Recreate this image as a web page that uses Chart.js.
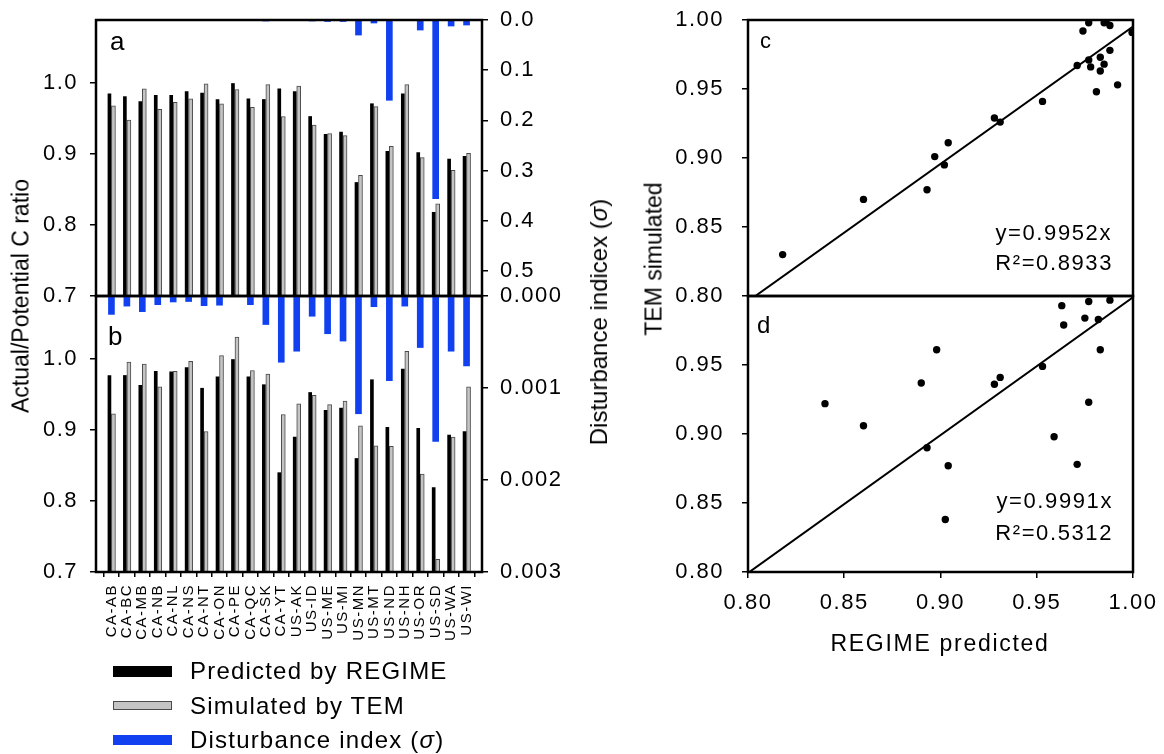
<!DOCTYPE html>
<html lang="en">
<head>
    <meta charset="UTF-8">
    <title>Actual/Potential C ratio: REGIME vs TEM</title>
    <script src="https://cdn.jsdelivr.net/npm/chart.js"></script>
    <style>
        body {
            margin: 0;
            background: #fff;
            font-family: Arial, "Liberation Sans", sans-serif;
        }
        #fig {
            position: relative;
            width: 1164px;
            height: 754px;
            overflow: hidden;
        }
        #fig canvas {
            position: absolute;
        }
        .ttl {
            position: absolute;
            color: #000;
            white-space: nowrap;
            line-height: 1;
            transform: translate(-50%, -50%);
        }
        .rot {
            transform: translate(-50%, -50%) rotate(-90deg);
        }
        #legend {
            position: absolute;
            left: 113px;
            top: 654px;
        }
        .item {
            display: flex;
            align-items: center;
            height: 34.5px;
            font-size: 24px;
            letter-spacing: 1.2px;
            white-space: nowrap;
        }
        .swatch {
            display: inline-block;
            width: 59px;
            margin-right: 18px;
            box-sizing: border-box;
        }
    </style>
</head>
<body>
<div id="fig">
    <canvas id="cA" width="620" height="360" style="left:0;top:-20px"></canvas>
    <canvas id="cB" width="620" height="410" style="left:0;top:256px"></canvas>
    <canvas id="cC" width="564" height="360" style="left:620px;top:-20px"></canvas>
    <canvas id="cD" width="564" height="410" style="left:620px;top:256px"></canvas>

    <div class="ttl rot" style="left:21px;top:296px;font-size:23px">Actual/Potential C ratio</div>
    <div class="ttl rot" style="left:599px;top:322px;font-size:24px">Disturbance indicex (<i>σ</i>)</div>
    <div class="ttl rot" style="left:654px;top:259px;font-size:23px">TEM simulated</div>
    <div class="ttl" style="left:940px;top:643px;font-size:23px;letter-spacing:1.7px">REGIME predicted</div>

    <div id="legend"></div>
</div>

<script>
    // states / provinces
    const states = ['CA-AB', 'CA-BC', 'CA-MB', 'CA-NB', 'CA-NL', 'CA-NS', 'CA-NT', 'CA-ON',
        'CA-PE', 'CA-QC', 'CA-SK', 'CA-YT', 'US-AK', 'US-ID', 'US-ME', 'US-MI',
        'US-MN', 'US-MT', 'US-ND', 'US-NH', 'US-OR', 'US-SD', 'US-WA', 'US-WI'];

    // panel a (and scatter c)
    const predA = [0.985, 0.981, 0.974, 0.983, 0.983, 0.988, 0.986, 0.977, 0.9995, 0.978, 0.977, 0.992,
        0.988, 0.953, 0.928, 0.931, 0.860, 0.971, 0.904, 0.985, 0.902, 0.818, 0.893, 0.897];
    const temA = [0.968, 0.948, 0.992, 0.963, 0.973, 0.978, 0.999, 0.971, 0.991, 0.966, 0.998, 0.953,
        0.996, 0.941, 0.929, 0.926, 0.870, 0.967, 0.911, 0.998, 0.895, 0.830, 0.877, 0.901];
    const sigmaA = [0, 0, 0, 0, 0, 0, 0, 0, 0, 0, 0.002, 0,
        0, 0.002, 0.003, 0.003, 0.030, 0.006, 0.160, 0, 0.020, 0.356, 0.012, 0.010];

    // panel b (and scatter d)
    const predB = [0.977, 0.977, 0.963, 0.983, 0.982, 0.988, 0.959, 0.975, 0.9995, 0.975, 0.964, 0.840,
        0.890, 0.953, 0.928, 0.931, 0.860, 0.971, 0.904, 0.986, 0.9025, 0.819, 0.893, 0.898];
    const temB = [0.923, 0.996, 0.993, 0.961, 0.983, 0.997, 0.898, 1.005, 1.031, 0.984, 0.979, 0.922,
        0.937, 0.949, 0.936, 0.941, 0.906, 0.878, 0.877, 1.011, 0.838, 0.718, 0.890, 0.961];
    const sigmaB = [0.00020, 0.00011, 0.00017, 0.000094, 0.000065, 0.00006, 0.000105, 0.0001, 0, 0.000094, 0.00031, 0.00072,
        0.00060, 0.00022, 0.00041, 0.00049, 0.00128, 0.000116, 0.00092, 0.00011, 0.00056, 0.00158, 0.00060, 0.00076];

    // ticks
    const ratioTicks = [0.7, 0.8, 0.9, 1.0];
    const sigmaTicksA = [0, 0.1, 0.2, 0.3, 0.4, 0.5];
    const sigmaTicksB = [0, 0.001, 0.002, 0.003];
    const scatterTicks = [0.80, 0.85, 0.90, 0.95, 1.00];
    const scatterTicksD = [0.80, 0.85, 0.90, 0.95];

    // fitted lines
    const slopeC = 0.9952, r2C = 0.8933;
    const slopeD = 0.9991, r2D = 0.5312;

    Chart.defaults.font.family = 'Arial, "Liberation Sans", sans-serif';
    Chart.defaults.color = '#000';

    const BLACK = '#000000';
    const GRAY = '#c4c4c4';
    const BLUE = '#1040f0';

    // the reference lettering is a little wider than Arial
    const wideText = {
        id: 'wideText',
        beforeDraw(chart) { chart.ctx.letterSpacing = '1.5px'; },
        afterDraw(chart) { chart.ctx.letterSpacing = '0px'; }
    };

    // box around each panel
    const frame = {
        id: 'frame',
        afterDatasetsDraw(chart) {
            const {ctx, chartArea: a} = chart;
            ctx.save();
            ctx.strokeStyle = '#000';
            ctx.lineWidth = 2.5;
            ctx.strokeRect(a.left, a.top, a.width, a.height);
            ctx.restore();
        }
    };

    // panel letters and equations
    const panelText = {
        id: 'panelText',
        afterDraw(chart, args, opts) {
            const {ctx, chartArea: a} = chart;
            (opts.items || []).forEach(it => {
                ctx.save();
                ctx.font = (it.size || 23) + 'px Arial, "Liberation Sans", sans-serif';
                ctx.letterSpacing = (it.spacing || 0) + 'px';
                ctx.fillStyle = '#000';
                ctx.textAlign = it.align || 'left';
                ctx.textBaseline = 'alphabetic';
                const x = it.align === 'right' ? a.right - it.dx : a.left + it.dx;
                ctx.fillText(it.text, x, a.top + it.dy);
                ctx.restore();
            });
        }
    };

    const xy = arr => arr.map((v, i) => ({x: i, y: v}));
    const setTicks = vals => s => { s.ticks = vals.map(v => ({value: v})); };

    function barChart(id, pred, tem, sigma, sigmaMax, sigmaTicks, sigmaDigits, showX, xHeight, letter) {
        return new Chart(document.getElementById(id), {
            type: 'bar',
            data: {
                datasets: [{
                    label: 'Predicted by REGIME',
                    data: xy(pred),
                    yAxisID: 'y',
                    backgroundColor: BLACK,
                    barThickness: 4,
                    maxBarThickness: 3,
                    base: 0.7
                }, {
                    label: 'Simulated by TEM',
                    data: xy(tem),
                    yAxisID: 'y',
                    backgroundColor: GRAY,
                    borderColor: '#4a4a4a',
                    borderWidth: 1,
                    barThickness: 4,
                    base: 0.7
                }, {
                    label: 'Disturbance index (σ)',
                    data: xy(sigma),
                    yAxisID: 'y2',
                    backgroundColor: BLUE,
                    barThickness: 6,
                    grouped: false
                }]
            },
            options: {
                responsive: false,
                animation: false,
                layout: {padding: {top: 40, left: 0, right: 0, bottom: 0}},
                plugins: {
                    legend: {display: false},
                    tooltip: {enabled: false},
                    panelText: {items: [letter]}
                },
                scales: {
                    x: {
                        type: 'linear',
                        min: -1,
                        max: states.length,
                        offset: false,
                        bounds: 'data',
                        afterBuildTicks: setTicks(states.map((s, i) => i)),
                        grid: {drawOnChartArea: false, drawTicks: showX, tickLength: 5, color: '#000', lineWidth: 1.5},
                        border: {display: false},
                        ticks: {
                            display: showX,
                            autoSkip: false,
                            minRotation: 90,
                            maxRotation: 90,
                            padding: 7,
                            font: {size: 15},
                            callback: v => states[v]
                        },
                        afterFit: s => { s.height = xHeight; }
                    },
                    y: {
                        position: 'left',
                        min: 0.7,
                        max: 1.089,
                        bounds: 'data',
                        afterBuildTicks: setTicks(ratioTicks),
                        grid: {drawOnChartArea: false, tickLength: 6, color: '#000', lineWidth: 1.5},
                        border: {display: false},
                        ticks: {padding: 12, font: {size: 22}, callback: v => v.toFixed(1)},
                        afterFit: s => { s.width = 96; }
                    },
                    y2: {
                        position: 'right',
                        reverse: true,
                        min: 0,
                        max: sigmaMax,
                        bounds: 'data',
                        afterBuildTicks: setTicks(sigmaTicks),
                        grid: {drawOnChartArea: false, tickLength: 6, color: '#000', lineWidth: 1.5},
                        border: {display: false},
                        ticks: {padding: 12, font: {size: 22}, callback: v => v.toFixed(sigmaDigits)},
                        afterFit: s => { s.width = 138; }
                    }
                }
            },
            plugins: [wideText, frame, panelText]
        });
    }

    function scatterChart(id, pred, tem, slope, yTicks, showX, xHeight, texts) {
        const x0 = scatterTicks[0], x1 = scatterTicks[scatterTicks.length - 1];
        return new Chart(document.getElementById(id), {
            type: 'scatter',
            data: {
                datasets: [{
                    label: 'states',
                    data: pred.map((v, i) => ({x: v, y: tem[i]})),
                    backgroundColor: '#000',
                    borderWidth: 0,
                    pointRadius: 3.7
                }, {
                    label: 'y=' + slope + 'x',
                    data: [{x: x0, y: slope * x0}, {x: x1, y: slope * x1}],
                    showLine: true,
                    borderColor: '#000',
                    borderWidth: 2,
                    pointRadius: 0
                }]
            },
            options: {
                responsive: false,
                animation: false,
                layout: {padding: {top: 40, left: 0, right: 51, bottom: 0}},
                plugins: {
                    legend: {display: false},
                    tooltip: {enabled: false},
                    panelText: {items: texts}
                },
                scales: {
                    x: {
                        type: 'linear',
                        min: 0.8,
                        max: 1.0,
                        bounds: 'data',
                        afterBuildTicks: setTicks(scatterTicks),
                        grid: {drawOnChartArea: false, drawTicks: showX, tickLength: 6, color: '#000', lineWidth: 1.5},
                        border: {display: false},
                        ticks: {display: showX, padding: 12, maxRotation: 0, font: {size: 22}, callback: v => v.toFixed(2)},
                        afterFit: s => { s.height = xHeight; }
                    },
                    y: {
                        min: 0.8,
                        max: 1.0,
                        bounds: 'data',
                        afterBuildTicks: setTicks(yTicks),
                        grid: {drawOnChartArea: false, tickLength: 6, color: '#000', lineWidth: 1.5},
                        border: {display: false},
                        ticks: {padding: 18, font: {size: 22}, callback: v => v.toFixed(2)},
                        afterFit: s => { s.width = 128; }
                    }
                }
            },
            plugins: [wideText, frame, panelText]
        });
    }

    // a: upper bar panel, b: lower bar panel
    const chartA = barChart('cA', predA, temA, sigmaA, 0.55, sigmaTicksA, 1, false, 44,
        {text: 'a', dx: 14, dy: 30, size: 26, spacing: 1});
    const chartB = barChart('cB', predB, temB, sigmaB, 0.003, sigmaTicksB, 3, true, 94,
        {text: 'b', dx: 12, dy: 49, size: 26, spacing: 1});

    // c, d: TEM simulated vs REGIME predicted
    scatterChart('cC', predA, temA, slopeC, scatterTicks, false, 44, [
        {text: 'c', dx: 12, dy: 28, size: 22},
        {text: 'y=' + slopeC + 'x', dx: 21, dy: 220, align: 'right', size: 22, spacing: 1.6},
        {text: 'R²=' + r2C, dx: 20, dy: 250, align: 'right', size: 22, spacing: 1.6}
    ]);
    scatterChart('cD', predB, temB, slopeD, scatterTicksD, true, 94, [
        {text: 'd', dx: 9, dy: 37, size: 24},
        {text: 'y=' + slopeD + 'x', dx: 20, dy: 212, align: 'right', size: 22, spacing: 1.6},
        {text: 'R²=' + r2D, dx: 20, dy: 244, align: 'right', size: 22, spacing: 1.6}
    ]);

    // legend below the bar panels
    const legendBox = document.getElementById('legend');
    const swatchHeights = [11, 9, 10];
    chartA.data.datasets.forEach((ds, i) => {
        const row = document.createElement('div');
        row.className = 'item';
        const sw = document.createElement('span');
        sw.className = 'swatch';
        sw.style.height = swatchHeights[i] + 'px';
        sw.style.background = ds.backgroundColor;
        if (ds.borderWidth) sw.style.border = '1px solid ' + ds.borderColor;
        row.appendChild(sw);
        const txt = document.createElement('span');
        const parts = ds.label.split('σ');
        txt.appendChild(document.createTextNode(parts[0]));
        if (parts.length > 1) {
            const it = document.createElement('i');
            it.textContent = 'σ';
            txt.appendChild(it);
            txt.appendChild(document.createTextNode(parts[1]));
        }
        row.appendChild(txt);
        legendBox.appendChild(row);
    });
</script>
</body>
</html>
